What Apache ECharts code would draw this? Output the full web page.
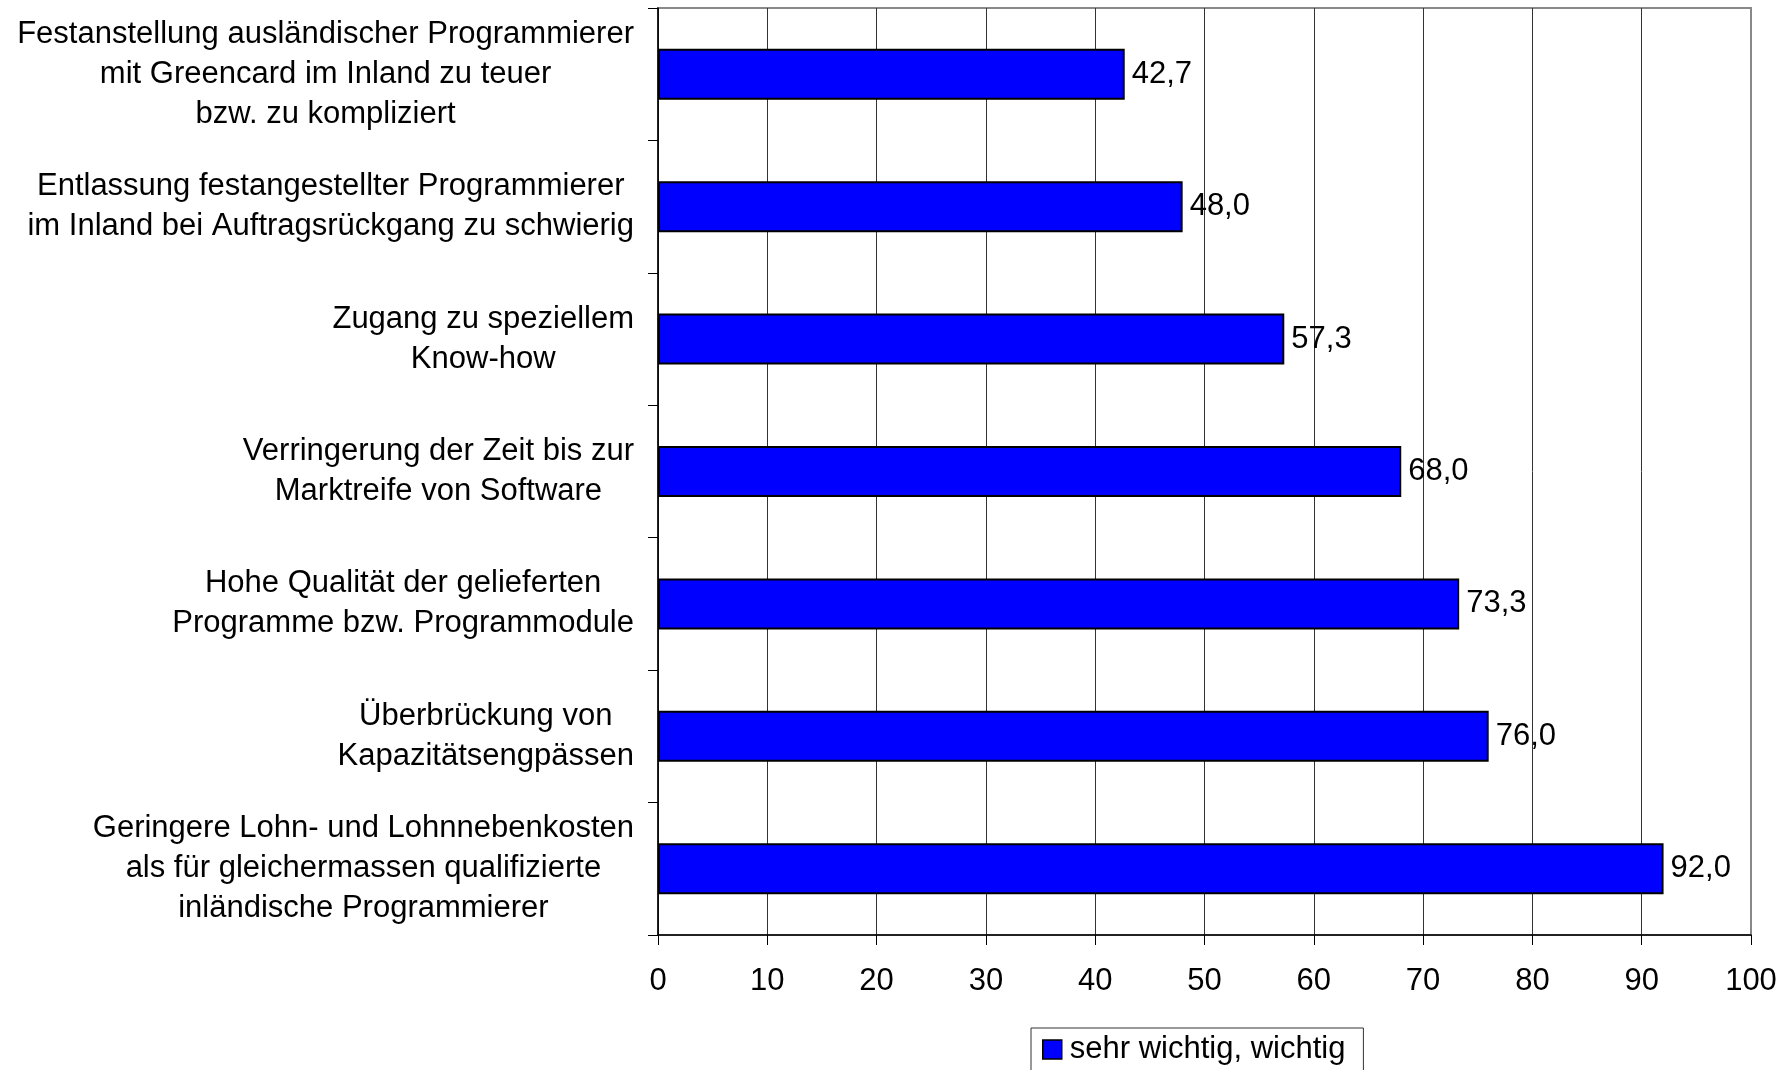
<!DOCTYPE html>
<html>
<head>
<meta charset="utf-8">
<script src="https://cdn.jsdelivr.net/npm/echarts@6/dist/echarts.min.js"></script>
<style>
  html, body { margin: 0; padding: 0; background: #fff; }
  #chart { width: 1785px; height: 1070px; }
</style>
</head>
<body>
<div id="chart"></div>
<script>
var categories = [
  'Festanstellung ausländischer Programmierer\nmit Greencard im Inland zu teuer\nbzw. zu kompliziert',
  'Entlassung festangestellter Programmierer\nim Inland bei Auftragsrückgang zu schwierig',
  'Zugang zu speziellem\nKnow-how',
  'Verringerung der Zeit bis zur\nMarktreife von Software',
  'Hohe Qualität der gelieferten\nProgramme bzw. Programmodule',
  'Überbrückung von\nKapazitätsengpässen',
  'Geringere Lohn- und Lohnnebenkosten\nals für gleichermassen qualifizierte\ninländische Programmierer'
]
var values = [42.7, 48.0, 57.3, 68.0, 73.3, 76.0, 92.0]
var seriesName = 'sehr wichtig, wichtig'
var xTicks = [0, 100, 10]   // min, max, interval

var font = "'Liberation Sans', Arial, sans-serif"
var myChart = echarts.init(document.getElementById('chart'))
var option = {
  animation: false,
  backgroundColor: '#fff',
  grid: {
    left: 658,
    right: 34,
    top: 8,
    bottom: 135,
    show: true,
    borderColor: '#888',
    borderWidth: 2
  },
  legend: {
    data: [seriesName],
    left: 1031,
    top: 1028,
    padding: [6, 18, 20, 11],
    itemWidth: 19,
    itemHeight: 19,
    itemGap: 8,
    borderColor: '#333',
    borderWidth: 1,
    icon: 'rect',
    itemStyle: { borderColor: '#000', borderWidth: 1.5 },
    textStyle: { fontSize: 31, fontFamily: font, color: '#000', padding: [0, 0, 0, 3] }
  },
  xAxis: {
    type: 'value',
    min: xTicks[0],
    max: xTicks[1],
    interval: xTicks[2],
    axisLine: { show: true, lineStyle: { color: '#000', width: 1.5 } },
    axisTick: { show: true, length: 10, lineStyle: { color: '#000' } },
    axisLabel: { fontSize: 31, fontFamily: font, color: '#000', margin: 31 },
    splitLine: { show: true, showMaxLine: false, lineStyle: { color: '#333', width: 1 } }
  },
  yAxis: {
    type: 'category',
    inverse: true,
    data: categories,
    axisLine: { show: true, lineStyle: { color: '#000', width: 1.5 } },
    axisTick: { show: true, length: 10, lineStyle: { color: '#000' } },
    axisLabel: {
      margin: 24,
      align: 'right',
      formatter: function (v) {
        return v.split('\n').map(function (l) { return '{c|' + l + '}' }).join('\n')
      },
      rich: {
        c: { align: 'center', fontSize: 31, lineHeight: 40, fontFamily: font, color: '#000' }
      }
    }
  },
  series: [
    {
      name: seriesName,
      type: 'bar',
      data: values,
      barWidth: 51,
      itemStyle: { color: '#0000ff', borderColor: '#000', borderWidth: 2 },
      label: {
        show: true,
        position: 'right',
        distance: 7,
        fontSize: 31,
        fontFamily: font,
        color: '#000',
        formatter: function (p) { return p.value.toFixed(1).replace('.', ',') }
      }
    }
  ]
}
myChart.setOption(option)
</script>
</body>
</html>
